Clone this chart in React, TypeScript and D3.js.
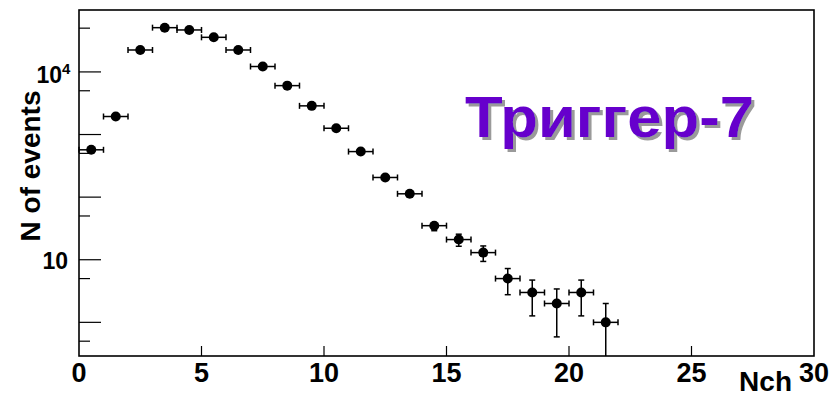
import React from "react";
import * as d3 from "d3";

const binCenters = [0.5, 1.5, 2.5, 3.5, 4.5, 5.5, 6.5, 7.5, 8.5, 9.5, 10.5, 11.5, 12.5, 13.5, 14.5, 15.5, 16.5, 17.5, 18.5, 19.5, 20.5, 21.5];
const counts = [570, 1940, 22400, 50900, 46800, 35700, 22400, 12200, 6040, 2870, 1260, 534, 206, 113, 35, 21, 13, 5, 3, 2, 3, 1];
const xTicks = [0, 5, 10, 15, 20, 25, 30];
const yMajorTicks = [1, 10, 100, 1000, 10000];
const yMinorTicks = [0.5, 5, 50, 500, 5000, 50000];
const title = "Триггер-7";
const xTitle = "Nch";
const yTitle = "N of events";

const W = 830, H = 396;
const L = 79, R = 814, T = 10, B = 356;

export default function App() {
  const x = d3.scaleLinear().domain([0, 30]).range([L, R]);
  const y = d3.scaleLog().domain([0.29, 97500]).range([B, T]);
  const font = "'Liberation Sans', Arial, Helvetica, sans-serif";
  const clampY = (v: number) => (v <= 0.29 ? B : y(v));

  return (
    <svg width={W} height={H} style={{ position: "absolute", left: 0, top: 0 }} fontFamily={font}>
      <defs>
        <filter id="shadow" x="-5%" y="-10%" width="115%" height="130%">
          <feDropShadow dx={3} dy={3} stdDeviation={0.6} floodColor="#9a9a9a" floodOpacity={1} />
        </filter>
      </defs>
      <rect x={0} y={0} width={W} height={H} fill="#fff" />
      {/* y ticks */}
      {yMajorTicks.map((t) => (
        <line key={"M" + t} x1={L} x2={L + 22} y1={y(t)} y2={y(t)} stroke="#000" strokeWidth={1.2} />
      ))}
      {yMinorTicks.map((t) => (
        <line key={"m" + t} x1={L} x2={L + 11} y1={y(t)} y2={y(t)} stroke="#000" strokeWidth={1.2} />
      ))}
      {/* x ticks */}
      {xTicks.slice(1, -1).map((t) => (
        <line key={"x" + t} x1={x(t)} x2={x(t)} y1={B} y2={B - 10} stroke="#000" strokeWidth={1.2} />
      ))}
      {/* data */}
      {binCenters.map((c, i) => {
        const n = counts[i];
        const e = Math.sqrt(n);
        const cx = x(c);
        const cy = y(n);
        const yUp = clampY(n + e);
        const yLo = clampY(n - e);
        return (
          <g key={"p" + i} stroke="#000" strokeWidth={1.5}>
            <line x1={x(c - 0.5)} x2={x(c + 0.5)} y1={cy} y2={cy} />
            <line x1={x(c - 0.5)} x2={x(c - 0.5)} y1={cy - 3} y2={cy + 3} />
            <line x1={x(c + 0.5)} x2={x(c + 0.5)} y1={cy - 3} y2={cy + 3} />
            <line x1={cx} x2={cx} y1={yUp} y2={yLo} />
            {yUp < cy - 5 && <line x1={cx - 3} x2={cx + 3} y1={yUp} y2={yUp} />}
            {yLo > cy + 5 && yLo < B && <line x1={cx - 3} x2={cx + 3} y1={yLo} y2={yLo} />}
            <circle cx={cx} cy={cy} r={5} fill="#000" stroke="none" />
          </g>
        );
      })}
      {/* frame */}
      <rect x={L} y={T} width={R - L} height={B - T} fill="none" stroke="#000" strokeWidth={1.6} />
      {/* x labels */}
      {xTicks.map((t) => (
        <text key={"xl" + t} x={x(t)} y={382} textAnchor="middle" fontSize={27} fontWeight="bold">
          {t}
        </text>
      ))}
      <text x={792} y={391} textAnchor="end" fontSize={28} fontWeight="bold">{xTitle}</text>
      {/* y labels */}
      <text x={68} y={269} textAnchor="end" fontSize={23} fontWeight="bold">10</text>
      <text x={62} y={83} textAnchor="end" fontSize={23} fontWeight="bold">10</text>
      <text x={62} y={74} textAnchor="start" fontSize={15} fontWeight="bold">4</text>
      <text transform={`translate(40,166) rotate(-90)`} textAnchor="middle" fontSize={28} fontWeight="bold">
        {yTitle}
      </text>
      {/* title */}
      <text x={465} y={137} fontSize={57} fontWeight="bold" fill="#6600cc" textLength={289} lengthAdjust="spacingAndGlyphs" filter="url(#shadow)">
        {title}
      </text>
    </svg>
  );
}
